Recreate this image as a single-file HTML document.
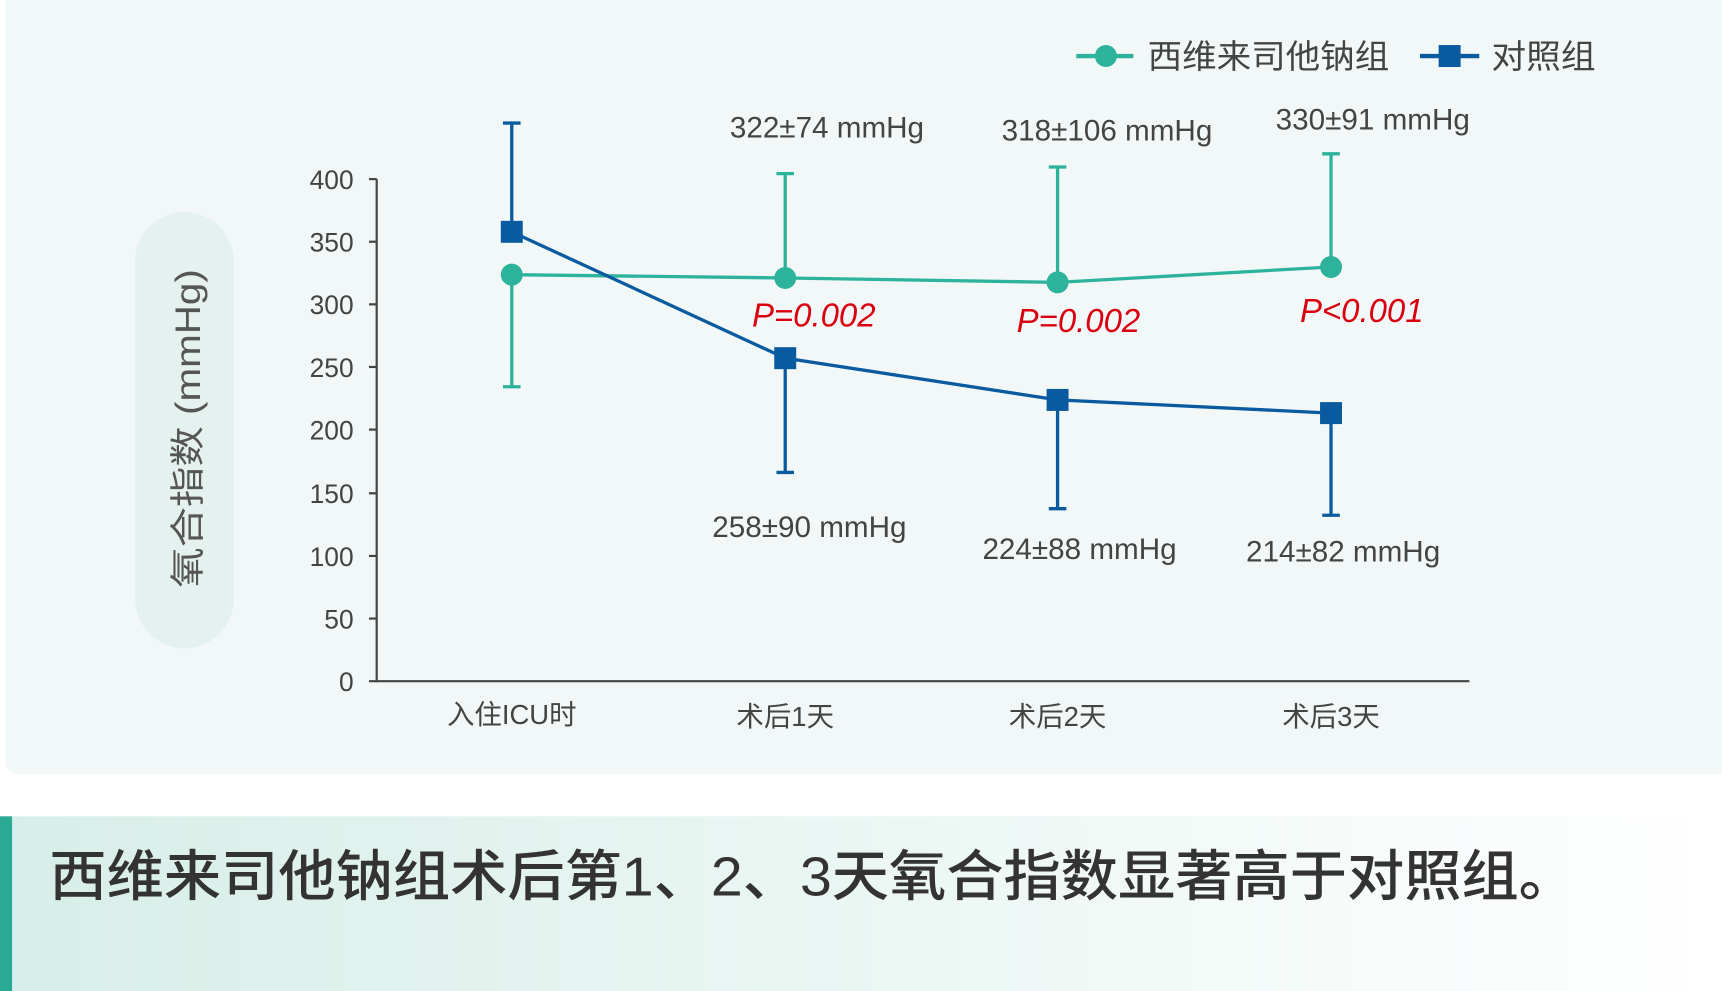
<!DOCTYPE html>
<html><head><meta charset="utf-8"><style>
html,body{margin:0;padding:0;width:1722px;height:991px;overflow:hidden;background:#fff}
#w{width:1568px;height:902px;transform:scale(1.09821,1.09867);transform-origin:0 0;position:relative}
</style></head><body><div id="w">
<svg width="1568" height="902" viewBox="0 0 1568 902" xmlns="http://www.w3.org/2000/svg" font-family="Liberation Sans, Noto Sans CJK SC, sans-serif">
<defs><linearGradient id="g" x1="0" x2="1" y1="0" y2="0"><stop offset="0" stop-color="#d7eee8"/><stop offset="1" stop-color="#ffffff"/></linearGradient></defs>
<rect x="5" y="-10" width="1575" height="715" rx="12" fill="#f2f8f8"/>
<rect x="0" y="743" width="1568" height="159" fill="url(#g)"/>
<rect x="0" y="743" width="11" height="159" fill="#2aaa96"/>
<text x="45" y="815" font-size="50" fill="#333" font-weight="500" textLength="1390" lengthAdjust="spacingAndGlyphs">西维来司他钠组术后第1、2、3天氧合指数显著高于对照组。</text>
<rect x="123" y="193" width="90" height="397" rx="45" fill="#e5f1ef"/>
<text transform="translate(182,390) rotate(-90)" text-anchor="middle" font-size="32" fill="#555" textLength="290" lengthAdjust="spacingAndGlyphs">氧合指数 (mmHg)</text>
<g stroke="#444" stroke-width="2"><line x1="343" y1="163" x2="343" y2="621"/><line x1="336" y1="620" x2="1338" y2="620"/>
<line x1="336" y1="163" x2="343" y2="163"/><line x1="336" y1="220" x2="343" y2="220"/><line x1="336" y1="277" x2="343" y2="277"/><line x1="336" y1="334" x2="343" y2="334"/><line x1="336" y1="391" x2="343" y2="391"/><line x1="336" y1="449" x2="343" y2="449"/><line x1="336" y1="506" x2="343" y2="506"/><line x1="336" y1="563" x2="343" y2="563"/></g>
<g font-size="24" fill="#444" text-anchor="end"><text x="322" y="172">400</text><text x="322" y="229">350</text><text x="322" y="286">300</text><text x="322" y="343">250</text><text x="322" y="400">200</text><text x="322" y="458">150</text><text x="322" y="515">100</text><text x="322" y="572">50</text><text x="322" y="629">0</text></g>
<g font-size="25" fill="#444" text-anchor="middle"><text x="466" y="659">入住ICU时</text><text x="715" y="661">术后1天</text><text x="963" y="661">术后2天</text><text x="1212" y="661">术后3天</text></g>
<g stroke="#2db39b" stroke-width="3" fill="none">
<line x1="466" y1="250" x2="466" y2="352"/><line x1="458" y1="352" x2="474" y2="352"/>
<line x1="715" y1="253" x2="715" y2="158"/><line x1="707" y1="158" x2="723" y2="158"/>
<line x1="963" y1="257" x2="963" y2="152"/><line x1="955" y1="152" x2="971" y2="152"/>
<line x1="1212" y1="243" x2="1212" y2="140"/><line x1="1204" y1="140" x2="1220" y2="140"/>
<polyline points="466,250 715,253 963,257 1212,243"/></g>
<g fill="#2db39b"><circle cx="466" cy="250" r="10"/><circle cx="715" cy="253" r="10"/><circle cx="963" cy="257" r="10"/><circle cx="1212" cy="243" r="10"/></g>
<g stroke="#0a5aa0" stroke-width="3" fill="none">
<line x1="466" y1="211" x2="466" y2="112"/><line x1="458" y1="112" x2="474" y2="112"/>
<line x1="715" y1="326" x2="715" y2="430"/><line x1="707" y1="430" x2="723" y2="430"/>
<line x1="963" y1="364" x2="963" y2="463"/><line x1="955" y1="463" x2="971" y2="463"/>
<line x1="1212" y1="376" x2="1212" y2="469"/><line x1="1204" y1="469" x2="1220" y2="469"/>
<polyline points="466,211 715,326 963,364 1212,376"/></g>
<g fill="#0a5aa0"><rect x="456" y="201" width="20" height="20"/><rect x="705" y="316" width="20" height="20"/><rect x="953" y="354" width="20" height="20"/><rect x="1202" y="366" width="20" height="20"/></g>
<g font-size="27" fill="#444" text-anchor="middle"><text x="753" y="125">322±74 mmHg</text><text x="1008" y="128">318±106 mmHg</text><text x="1250" y="118">330±91 mmHg</text>
<text x="737" y="489">258±90 mmHg</text><text x="983" y="509">224±88 mmHg</text><text x="1223" y="511">214±82 mmHg</text></g>
<g font-size="30" fill="#d9000f" font-style="italic" text-anchor="middle"><text x="741" y="297">P=0.002</text><text x="982" y="302">P=0.002</text><text x="1240" y="293">P&lt;0.001</text></g>
<line x1="980" y1="51" x2="1032" y2="51" stroke="#2db39b" stroke-width="4"/><circle cx="1007" cy="51" r="10" fill="#2db39b"/>
<text x="1045" y="62" font-size="30" fill="#444" textLength="220" lengthAdjust="spacingAndGlyphs">西维来司他钠组</text>
<line x1="1293" y1="51" x2="1347" y2="51" stroke="#0a5aa0" stroke-width="4"/><rect x="1310" y="41" width="20" height="20" fill="#0a5aa0"/>
<text x="1358" y="62" font-size="30" fill="#444" textLength="95" lengthAdjust="spacingAndGlyphs">对照组</text>
</svg></div></body></html>
